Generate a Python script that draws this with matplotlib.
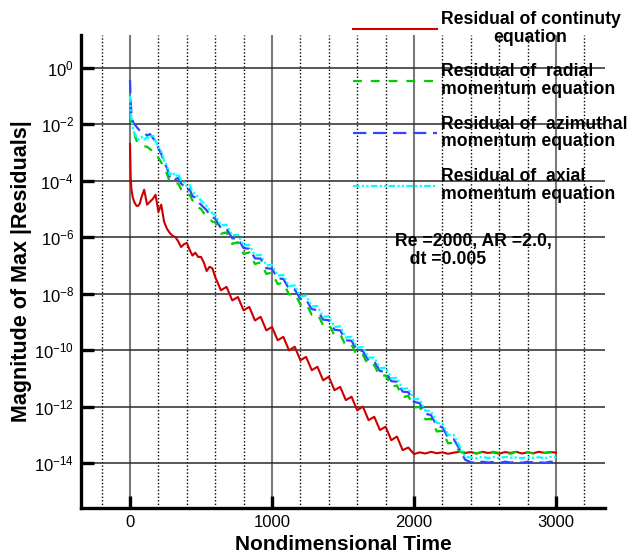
import matplotlib
matplotlib.use("Agg")
import matplotlib.pyplot as plt
from matplotlib.ticker import MultipleLocator, LogFormatterMathtext, NullLocator
import numpy as np

plt.rcParams['font.family'] = ['Liberation Sans', 'DejaVu Sans']
plt.rcParams['mathtext.fontset'] = 'custom'
plt.rcParams['mathtext.rm'] = 'Liberation Sans'

# time samples (nondimensional)
t_early = [0, 5, 10, 20, 30, 40, 50, 60, 70]
t = np.concatenate([t_early, np.arange(80, 600, 20), np.arange(600, 3001, 40)])

# log10 of residuals
cont_log = [
    -2.7, -3.9, -4.3, -4.6, -4.75, -4.85, -4.9, -4.88, -4.8,
    -4.6, -4.32, -4.85, -4.75, -4.65, -4.5, -5.1, -4.85, -5.45, -5.7,
    -5.85, -5.95, -6.0, -6.15, -6.35, -6.25, -6.2, -6.45, -6.65, -6.55,
    -6.7, -6.7, -6.9, -7.2, -7.05, -7.1,
    -7.41, -7.88, -7.76, -8.24, -8.12, -8.59, -8.47, -8.95, -8.82, -9.30,
    -9.18, -9.65, -9.53, -10.01, -9.88, -10.36, -10.24, -10.71, -10.59, -11.07,
    -10.94, -11.42, -11.30, -11.77, -11.65, -12.13, -12.00, -12.48, -12.36, -12.83,
    -12.71, -13.19, -13.06, -13.54, -13.45,
    -13.68, -13.62, -13.66, -13.6, -13.65, -13.62, -13.67, -13.63, -13.6, -13.64,
    -13.61, -13.66, -13.6, -13.64, -13.62, -13.67, -13.61, -13.64, -13.6, -13.66,
    -13.62, -13.65, -13.6, -13.64, -13.61, -13.63,
]

radial_log = [
    -1.08, -1.6, -1.9, -2.1, -2.3, -2.5, -2.62, -2.7, -2.73,
    -2.75, -2.78, -2.8, -2.88, -2.95, -2.98, -3.2, -3.35, -3.55, -3.75,
    -4.05, -4.05, -4.1, -4.1, -4.3, -4.35, -4.5, -4.5, -4.7, -4.75,
    -4.95, -5.0, -5.15, -5.2, -5.35, -5.45,
    -5.47, -5.88, -5.83, -6.24, -6.18, -6.59, -6.54, -6.95, -6.89, -7.30,
    -7.25, -7.66, -7.61, -8.03, -7.98, -8.39, -8.34, -8.75, -8.71, -9.12,
    -9.07, -9.48, -9.43, -9.85, -9.80, -10.21, -10.16, -10.57, -10.53, -10.94,
    -10.89, -11.30, -11.25, -11.67, -11.62, -12.03, -12.01, -12.45, -12.43, -12.88,
    -12.86, -13.30, -13.28, -13.60, -13.62,
    -13.6, -13.66, -13.61, -13.65, -13.6, -13.64, -13.62, -13.67, -13.6, -13.63,
    -13.61, -13.66, -13.6, -13.64, -13.62, -13.63,
]

azim_log = [
    -0.43, -1.2, -1.6, -1.9, -2.0, -2.05, -2.12, -2.18, -2.22,
    -2.24, -2.3, -2.4, -2.35, -2.48, -2.6, -2.85, -3.05, -3.35, -3.55,
    -3.85, -3.8, -3.95, -3.9, -4.1, -4.2, -4.35, -4.3, -4.55, -4.6,
    -4.75, -4.85, -4.95, -5.05, -5.2, -5.3,
    -5.34, -5.68, -5.70, -6.04, -6.05, -6.39, -6.41, -6.75, -6.76, -7.10,
    -7.12, -7.46, -7.48, -7.83, -7.85, -8.19, -8.21, -8.55, -8.58, -8.92,
    -8.94, -9.28, -9.30, -9.65, -9.67, -10.01, -10.03, -10.37, -10.40, -10.74,
    -10.76, -11.10, -11.12, -11.47, -11.49, -11.83, -11.88, -12.25, -12.30, -12.68,
    -12.73, -13.10, -13.15, -13.50, -13.88,
    -13.97, -13.99, -13.95, -13.98, -13.96, -14.0, -13.95, -13.98, -13.96, -13.99,
    -13.95, -13.98, -13.97, -13.99, -13.95, -13.97,
]

axial_log = [
    -1.0, -1.5, -1.85, -2.1, -2.3, -2.4, -2.5, -2.55, -2.5,
    -2.45, -2.55, -2.45, -2.5, -2.35, -2.6, -2.8, -2.95, -3.3, -3.45,
    -3.8, -3.7, -3.85, -3.75, -4.0, -4.05, -4.2, -4.15, -4.4, -4.45,
    -4.6, -4.7, -4.8, -4.9, -5.05, -5.15,
    -5.20, -5.58, -5.56, -5.94, -5.91, -6.29, -6.27, -6.65, -6.62, -7.00,
    -6.98, -7.36, -7.34, -7.73, -7.71, -8.09, -8.07, -8.45, -8.44, -8.82,
    -8.80, -9.18, -9.16, -9.55, -9.53, -9.91, -9.89, -10.27, -10.26, -10.64,
    -10.62, -11.00, -10.98, -11.37, -11.35, -11.73, -11.74, -12.15, -12.16, -12.58,
    -12.59, -13.00, -13.01, -13.40, -13.78,
    -13.8, -13.83, -13.78, -13.82, -13.79, -13.83, -13.78, -13.81, -13.8, -13.83,
    -13.78, -13.82, -13.79, -13.83, -13.78, -13.8,
]

labels = [
    "Residual of continuty\nequation",
    "Residual of  radial\nmomentum equation",
    "Residual of  azimuthal\nmomentum equation",
    "Residual of  axial\nmomentum equation",
]
colors = ['#cc0000', '#00cc00', '#3344ff', '#00ffff']
widths = [1.5, 1.6, 1.6, 1.6]
styles = ['-', (0, (4, 4)), (0, (6, 3)), (0, (3, 1, 1, 1, 1, 1))]

fig = plt.figure(figsize=(6.33, 5.58), dpi=100)
ax = fig.add_axes([81/633, 1 - 508/558, (605 - 81)/633, (508 - 35)/558])

series = [cont_log, radial_log, azim_log, axial_log]
for vals, c, w, s, lab in zip(series, colors, widths, styles, labels):
    ax.plot(t, 10.0 ** np.array(vals), color=c, lw=w, ls=s, label=lab, zorder=3)

ax.set_yscale('log')
ax.set_xlim(-345, 3345)
ax.set_ylim(10 ** -15.59, 10 ** 1.158)

ax.set_xticks([0, 1000, 2000, 3000])
ax.xaxis.set_minor_locator(MultipleLocator(200))
ax.set_yticks([10.0 ** e for e in range(0, -15, -2)])
ax.yaxis.set_major_formatter(LogFormatterMathtext())
ax.yaxis.set_minor_locator(NullLocator())

ax.grid(which='major', axis='x', color='#7a7a7a', lw=1.5, ls='-')
ax.grid(which='minor', axis='x', color='black', lw=1.0, ls=(0, (1, 1.5)))
ax.grid(which='major', axis='y', color='#2a2a2a', lw=1.1, ls='-')

for side in ['top', 'right']:
    ax.spines[side].set_visible(False)
for side in ['left', 'bottom']:
    ax.spines[side].set_linewidth(2.4)

ax.tick_params(which='major', direction='in', length=9, width=2.4, labelsize=12)
ax.tick_params(axis='x', pad=5)
ax.tick_params(axis='y', pad=5)
ax.tick_params(which='minor', length=0)

ax.set_xlabel("Nondimensional Time", fontsize=15, fontweight='bold')
ax.set_ylabel("Magnitude of Max |Residuals|", fontsize=15.5, fontweight='bold')
ax.xaxis.set_label_coords(0.5, -0.058)
ax.yaxis.set_label_coords(-0.094, 0.5)

leg = ax.legend(loc='upper left', bbox_to_anchor=(353/633, 1 - 11/558),
                bbox_transform=fig.transFigure, frameon=False,
                prop={'size': 12.7, 'weight': 'bold'}, handlelength=4.75,
                handletextpad=0.22, labelspacing=1.0, borderpad=0, borderaxespad=0)
for txt in leg.get_texts():
    txt.set_linespacing(1.05)
leg.get_texts()[0].set_multialignment('center')

ax.text(0.599, 0.545, "Re =2000, AR =2.0,\n   dt =0.005", transform=ax.transAxes,
        fontsize=12.7, fontweight='bold', ha='left', va='center', linespacing=1.05)

fig.savefig("out.png", dpi=100)
